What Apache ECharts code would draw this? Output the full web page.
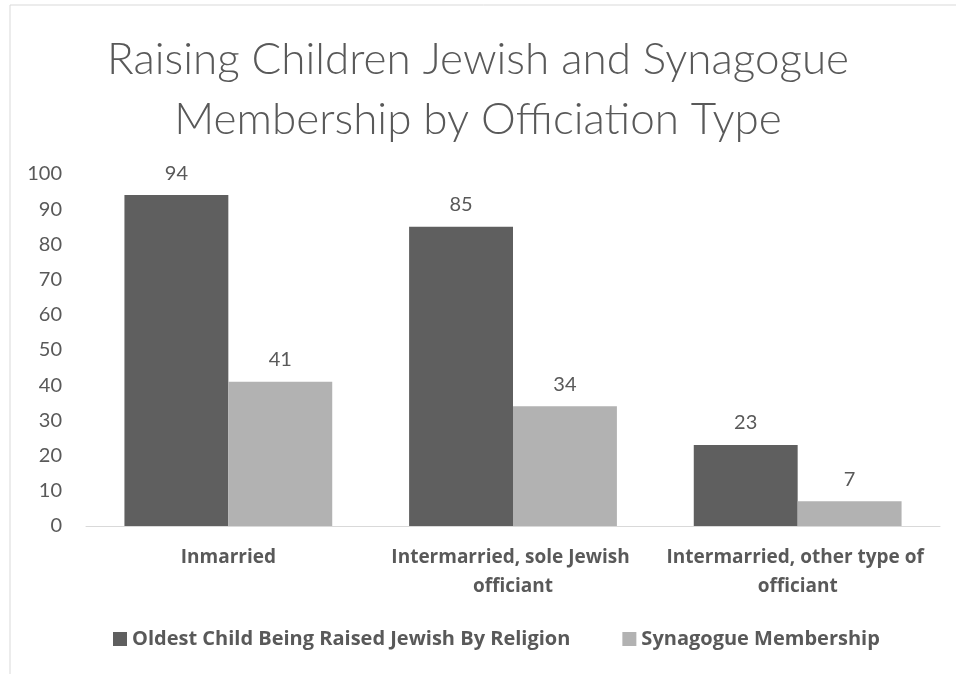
<!DOCTYPE html>
<html lang="en">
<head>
    <meta charset="UTF-8" />
    <title>Raising Children Jewish and Synagogue Membership</title>
    <script src="https://cdn.jsdelivr.net/npm/echarts/dist/echarts.min.js"></script>
    <style>
        html, body { margin: 0; padding: 0; background: #fff; }
        #chart { width: 956px; height: 674px; }
    </style>
</head>
<body>
    <div id="chart"></div>
    <script>
        // data
        const categories = ['Inmarried', 'Intermarried, sole Jewish officiant', 'Intermarried, other type of officiant'];
        const raisedJewish = [94, 85, 23];
        const synagogue = [41, 34, 7];
        const seriesNames = ['Oldest Child Being Raised Jewish By Religion', 'Synagogue Membership'];

        const font = 'Lato, Carlito, Calibri, sans-serif';
        const boldFont = '"Open Sans", sans-serif';
        const grey = '#595959';

        const chart = echarts.init(document.getElementById('chart'));

        chart.setOption({
            animation: false,
            textStyle: { fontFamily: font },
            title: {
                text: 'Raising Children Jewish and Synagogue\nMembership by Officiation Type',
                left: 'center',
                top: 25,
                textStyle: {
                    fontFamily: font,
                    fontSize: 44,
                    fontWeight: 300,
                    color: grey,
                    lineHeight: 60
                }
            },
            // chart-area border like the spreadsheet frame
            graphic: [{
                type: 'rect',
                shape: { x: 10, y: 5, width: 1000, height: 700 },
                style: { fill: 'none', stroke: '#d9d9d9', lineWidth: 1 },
                silent: true
            }],
            legend: {
                bottom: 20,
                left: 108,
                itemWidth: 14,
                itemHeight: 14,
                itemGap: 52,
                icon: 'rect',
                textStyle: { fontFamily: boldFont, fontSize: 20, fontWeight: 'bold', color: grey }
            },
            grid: { left: 86, right: 16, top: 174, bottom: 148 },
            xAxis: {
                type: 'category',
                data: categories,
                axisLine: { lineStyle: { color: '#d9d9d9', width: 1 } },
                axisTick: { show: false },
                axisLabel: {
                    interval: 0,
                    margin: 17,
                    color: grey,
                    fontFamily: boldFont,
                    fontSize: 19,
                    fontWeight: 'bold',
                    lineHeight: 29,
                    width: 284,
                    overflow: 'break'
                }
            },
            yAxis: {
                type: 'value',
                min: 0,
                max: 100,
                interval: 10,
                splitLine: { show: false },
                axisLine: { show: false },
                axisTick: { show: false },
                axisLabel: { color: grey, fontFamily: font, fontSize: 20, margin: 24 }
            },
            series: [
                {
                    name: seriesNames[0],
                    type: 'bar',
                    data: raisedJewish,
                    barGap: '0%',
                    barCategoryGap: '27%',
                    itemStyle: { color: '#5f5f5f' },
                    label: { show: true, position: 'top', distance: 12, color: grey, fontFamily: font, fontSize: 20 }
                },
                {
                    name: seriesNames[1],
                    type: 'bar',
                    data: synagogue,
                    itemStyle: { color: '#b2b2b2' },
                    label: { show: true, position: 'top', distance: 12, color: grey, fontFamily: font, fontSize: 20 }
                }
            ]
        });
    </script>
</body>
</html>
